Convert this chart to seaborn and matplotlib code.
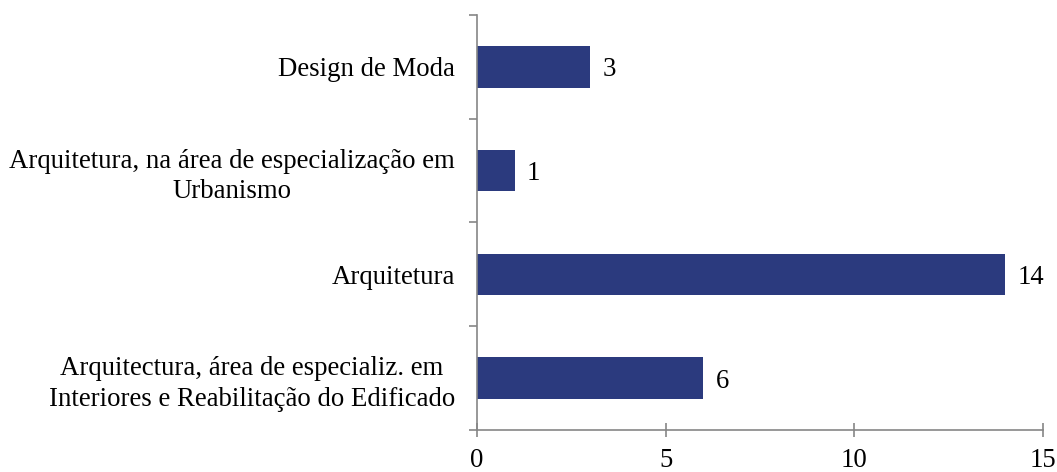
import matplotlib
matplotlib.use('Agg')
import matplotlib.pyplot as plt
import seaborn as sns
import pandas as pd
import numpy as np

cursos = ['Design de Moda',
          'Arquitetura, na área de especialização em\nUrbanismo',
          'Arquitetura',
          'Arquitectura, área de especializ. em\nInteriores e Reabilitação do Edificado']
valores = [3, 1, 14, 6]
x_ticks = [0, 5, 10, 15]

sns.set_theme(style='white')
plt.rcParams['font.family'] = ['Liberation Serif', 'DejaVu Serif']
plt.rcParams['text.color'] = 'black'
plt.rcParams['xtick.color'] = 'black'
plt.rcParams['ytick.color'] = 'black'

df = pd.DataFrame({'curso': cursos, 'n': valores})

fig = plt.figure(figsize=(10.57, 4.72), dpi=100)
ax = fig.add_axes([0.4513, 0.089, 0.5355, 0.8793])

sns.barplot(data=df, x='n', y='curso', order=cursos, color='#2B3A7E',
            saturation=1, width=0.40, ax=ax, edgecolor='none')

for i, v in enumerate(valores):
    ax.text(v + 0.32, i + 0.03, str(v), va='center', ha='left', fontsize=19.3, color='black')

ax.set_xlim(0, 15)
ax.set_ylim(3.5, -0.5)
ax.set_xticks(x_ticks)
ax.set_xticklabels([str(t) for t in x_ticks], fontsize=19.3)
ax.set_yticks(range(len(cursos)))
ax.set_yticklabels(cursos, fontsize=19.3, multialignment='center', linespacing=1.3)
ax.set_yticks(np.arange(-0.5, len(cursos), 1), minor=True)
ax.tick_params(axis='y', which='major', length=0, pad=16)
ax.tick_params(axis='y', which='minor', length=6, width=1.2, color='#868686', direction='out', left=True)
ax.tick_params(axis='x', which='major', length=10, width=1.2, color='#868686', direction='inout', bottom=True, pad=8)
ax.set_xlabel('')
ax.set_ylabel('')

for s in ['top', 'right']:
    ax.spines[s].set_visible(False)
for s in ['left', 'bottom']:
    ax.spines[s].set_color('#868686')
    ax.spines[s].set_linewidth(1.2)

fig.savefig('out.png', dpi=100)
